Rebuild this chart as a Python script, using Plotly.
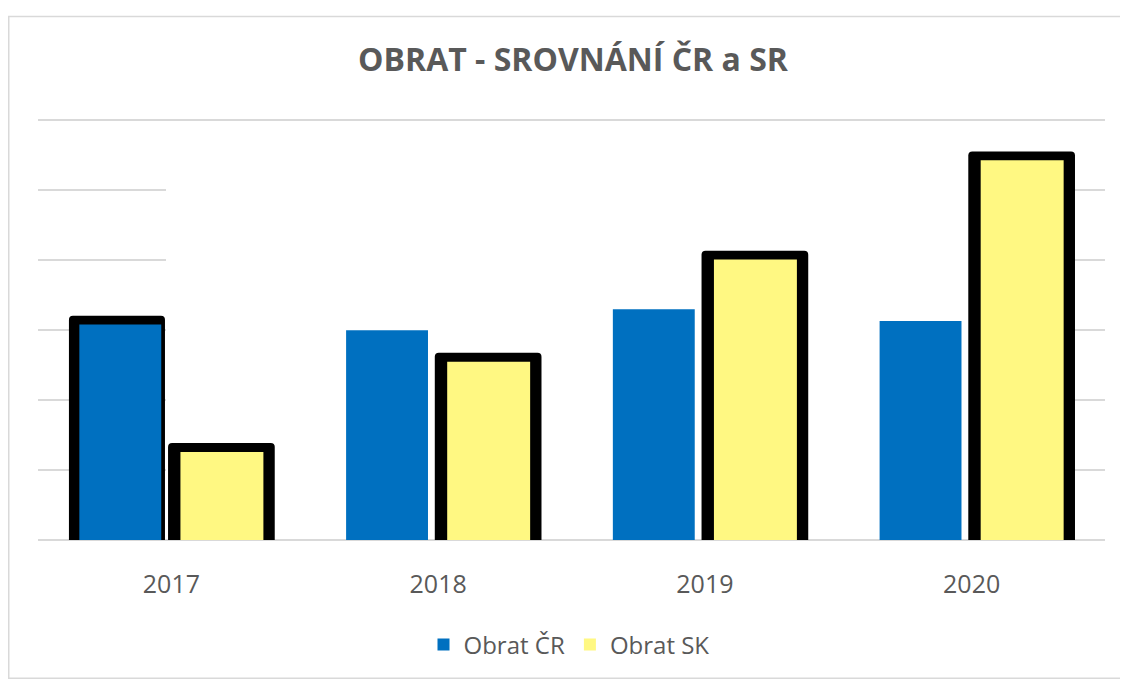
import plotly.graph_objects as go

# ---- data ----
years = ["2017", "2018", "2019", "2020"]
obrat_cr = [3.08, 3.00, 3.30, 3.13]
obrat_sk = [1.26, 2.55, 4.01, 5.43]
cr_outlined = [True, False, False, False]
sk_outlined = [True, True, True, True]

BLUE = "#0070C0"
YELLOW = "#FFF882"
GRID = "#D9D9D9"
TEXT = "#595959"
FONT = "Open Sans"

# the page body has an 8px margin, so the figure is placed at (8, 8) on screen
OFF = 8
W, H = 1128 - 2 * OFF, 687 - 2 * OFF
plot_left, plot_right = 38 - OFF, 1105 - OFF       # figure coords
plot_top, plot_bottom = 120 - OFF, 548 - OFF
ymax = 6
extra = 0.02                                        # so the top gridline is drawn
px_per_unit = (plot_bottom - plot_top) / ymax
L, R = plot_left, W - plot_right
B = H - plot_bottom
T = plot_top - extra * px_per_unit
pw, ph = plot_right - plot_left, plot_bottom - T

edge = 9 / px_per_unit  # thickness of the black rim on top

fig = go.Figure()

# black rims (drawn underneath the coloured bars)
fig.add_trace(go.Bar(
    x=years, y=[v + edge if o else None for v, o in zip(obrat_cr, cr_outlined)],
    offset=-0.384, width=0.36, marker=dict(color="black", line=dict(width=0), cornerradius=4),
    showlegend=False, hoverinfo="skip"))
fig.add_trace(go.Bar(
    x=years, y=[v + edge if o else None for v, o in zip(obrat_sk, sk_outlined)],
    offset=-0.0125, width=0.40, marker=dict(color="black", line=dict(width=0), cornerradius=4),
    showlegend=False, hoverinfo="skip"))

fig.add_trace(go.Bar(
    x=years, y=obrat_cr, name="Obrat ČR", offset=-0.345, width=0.307,
    marker=dict(color=BLUE, line=dict(width=0))))
fig.add_trace(go.Bar(
    x=years, y=obrat_sk, name="Obrat SK", offset=0.034, width=0.311,
    marker=dict(color=YELLOW, line=dict(width=0))))

# white panel masking the gridlines behind the bar groups
cat_px = pw / len(years)
c0 = plot_left + cat_px / 2          # centre of first category (figure coords)
fig.add_shape(type="rect", layer="between", xref="x", yref="y",
              x0=((166 - OFF) - c0) / cat_px, x1=((1075 - OFF) - c0) / cat_px,
              y0=0.02, y1=ymax - 0.1, fillcolor="white", line=dict(width=0))

# chart-area border
fig.add_shape(type="rect", xref="paper", yref="paper",
              x0=(0.75 - L) / pw, x1=(W + 10 - L) / pw,
              y0=(plot_bottom - (H + 10)) / ph, y1=(plot_bottom - (14 - OFF)) / ph,
              line=dict(color=GRID, width=1.5), fillcolor="rgba(0,0,0,0)", layer="below")

fig.update_layout(
    width=W, height=H,
    margin=dict(l=L, r=R, t=T, b=B, pad=0),
    paper_bgcolor="white", plot_bgcolor="white",
    barmode="overlay",
    title=dict(text="<b>OBRAT - SROVNÁNÍ ČR a SR</b>", x=((573 - OFF) - L) / pw, xref="paper",
               xanchor="center", y=1 - (60 - OFF) / H, yref="container", yanchor="middle",
               font=dict(family=FONT, size=32, color=TEXT)),
    font=dict(family=FONT, color=TEXT),
    xaxis=dict(showgrid=False, showline=False, zeroline=False, ticks="",
               tickfont=dict(family=FONT, size=25, color=TEXT), ticklabelstandoff=27,
               range=[-0.5, 3.5]),
    yaxis=dict(range=[0, ymax + extra], dtick=1, showticklabels=False, showgrid=True,
               gridcolor=GRID, gridwidth=1.5, zeroline=True, zerolinecolor=GRID,
               zerolinewidth=1.5, showline=False, ticks=""),
    legend=dict(orientation="h", x=((569 - OFF) - L) / pw, xanchor="center",
                y=(plot_bottom - (655 - OFF)) / ph, yanchor="middle",
                font=dict(family=FONT, size=24, color=TEXT), itemwidth=30),
    showlegend=True,
)

fig.write_html("out.html")
